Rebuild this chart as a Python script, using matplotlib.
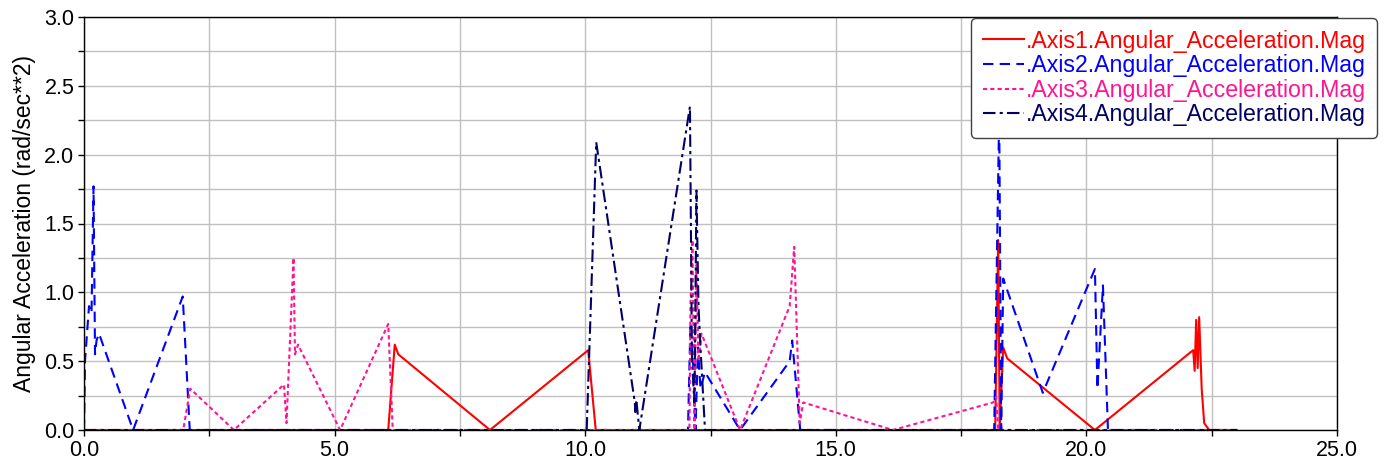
import matplotlib
matplotlib.use('Agg')
import matplotlib.pyplot as plt
from matplotlib.ticker import MultipleLocator, FormatStrFormatter

plt.rcParams['font.family'] = ['Liberation Sans', 'DejaVu Sans']

# time (sec) and angular acceleration magnitude (rad/sec**2)
t1 = [0.0, 6.07, 6.2, 6.27, 8.1, 10.06, 10.21, 18.18, 18.24, 18.27, 18.34, 18.42,
      20.17, 22.13, 22.16, 22.19, 22.22, 22.25, 22.3, 22.35, 22.45, 23.0]
a1 = [0.0, 0.0, 0.62, 0.55, 0.0, 0.58, 0.0, 0.0, 1.38, 0.0, 0.6, 0.52,
      0.0, 0.58, 0.43, 0.8, 0.45, 0.82, 0.3, 0.05, 0.0, 0.0]

t2 = [0.0, 0.02, 0.1, 0.15, 0.19, 0.22, 0.25, 0.3, 0.98, 1.97, 2.11, 12.05, 12.1,
      12.15, 12.2, 12.25, 12.3, 12.39, 13.09, 14.08, 14.13, 14.29, 18.16, 18.26,
      18.3, 18.34, 19.13, 20.17, 20.22, 20.33, 20.43, 23.0]
a2 = [0.0, 0.5, 0.9, 0.85, 1.77, 0.55, 0.65, 0.7, 0.0, 0.97, 0.0, 0.0, 0.78,
      0.5, 0.0, 0.6, 0.3, 0.42, 0.0, 0.5, 0.65, 0.0, 0.0, 2.3,
      0.0, 1.1, 0.27, 1.17, 0.3, 1.05, 0.0, 0.0]

t3 = [0.0, 1.98, 2.12, 2.99, 3.99, 4.04, 4.18, 4.21, 4.27, 5.11, 6.07, 6.16,
      12.08, 12.1, 12.14, 12.18, 12.22, 12.26, 12.32, 13.09, 14.08, 14.17, 14.28,
      14.35, 16.14, 18.14, 18.2, 18.24, 18.3, 23.0]
a3 = [0.0, 0.0, 0.3, 0.0, 0.33, 0.05, 1.25, 0.55, 0.62, 0.0, 0.77, 0.0,
      0.0, 0.9, 1.38, 0.0, 1.2, 0.5, 0.7, 0.0, 0.9, 1.33, 0.05,
      0.2, 0.0, 0.2, 0.24, 0.0, 0.0, 0.0]

t4 = [0.0, 10.03, 10.22, 10.99, 11.0, 11.02, 11.08, 12.09, 12.13, 12.18, 12.22,
      12.26, 12.3, 12.39, 23.0]
a4 = [0.0, 0.0, 2.09, 0.2, 0.13, 0.22, 0.0, 2.35, 0.5, 0.2, 1.74,
      0.9, 0.6, 0.0, 0.0]

names = ['.Axis1.Angular_Acceleration.Mag', '.Axis2.Angular_Acceleration.Mag',
         '.Axis3.Angular_Acceleration.Mag', '.Axis4.Angular_Acceleration.Mag']
colors = ['#ff0000', '#0000ff', '#ff1493', '#000066']

fig = plt.figure(figsize=(13.84, 4.68), dpi=100)
ax = fig.add_axes([84 / 1384, 1 - 430 / 468, (1337 - 84) / 1384, (430 - 17) / 468])

ax.plot(t1, a1, color=colors[0], lw=1.5, ls='-', label=names[0])
ax.plot(t2, a2, color=colors[1], lw=1.5, ls=(0, (5, 3)), label=names[1])
ax.plot(t3, a3, color=colors[2], lw=1.5, ls=(0, (2, 1.5)), label=names[2])
ax.plot(t4, a4, color=colors[3], lw=1.5, ls=(0, (6, 2, 1.5, 2)), label=names[3])

ax.set_xlim(0, 25)
ax.set_ylim(0, 3.0)
ax.xaxis.set_major_locator(MultipleLocator(5))
ax.xaxis.set_minor_locator(MultipleLocator(2.5))
ax.yaxis.set_major_locator(MultipleLocator(0.5))
ax.yaxis.set_minor_locator(MultipleLocator(0.25))
ax.xaxis.set_major_formatter(FormatStrFormatter('%.1f'))
ax.yaxis.set_major_formatter(FormatStrFormatter('%.1f'))
ax.grid(True, which='both', color='#c0c0c0', lw=1.0)
ax.set_axisbelow(True)
ax.tick_params(which='both', direction='out', length=4, width=1, labelsize=15.5, pad=3)
for s in ax.spines.values():
    s.set_color('black')
    s.set_linewidth(1.0)

ax.set_ylabel('Angular Acceleration (rad/sec**2)', fontsize=16.5, labelpad=6)

leg = ax.legend(loc='upper right', bbox_to_anchor=(1377 / 1384, 1 - 18 / 468),
                bbox_transform=fig.transFigure, fontsize=16.7, handlelength=1.75,
                handletextpad=0.08, borderpad=0.5, labelspacing=0.07,
                borderaxespad=0, fancybox=True, framealpha=1, edgecolor='#404040')
leg.get_frame().set_linewidth(1.0)
for txt, c in zip(leg.get_texts(), colors):
    txt.set_color(c)

fig.savefig('out.png', dpi=100)
